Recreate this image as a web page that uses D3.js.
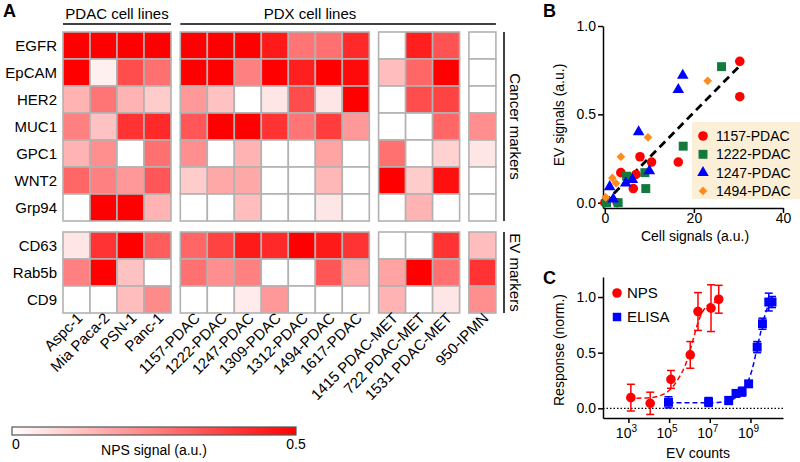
<!DOCTYPE html>
<html><head><meta charset="utf-8">
<script src="https://cdn.jsdelivr.net/npm/d3@7"></script>
<style>
body{margin:0;background:#fff}
svg{display:block}
text{font-family:"Liberation Sans",Arial,Helvetica,sans-serif;fill:#000}
</style>
</head><body>
<svg id="chart" width="800" height="462"></svg>
<script>
// ---------------- Panel A data ----------------
const columns = ["Aspc-1","Mia Paca-2","PSN-1","Panc-1","1157-PDAC","1222-PDAC","1247-PDAC","1309-PDAC","1312-PDAC","1494-PDAC","1617-PDAC","1415 PDAC-MET","722 PDAC-MET","1531 PDAC-MET","950-IPMN"];
const columnGroup = [0,0,0,0,1,1,1,1,1,1,1,2,2,2,3];
const cancerMarkers = ["EGFR","EpCAM","HER2","MUC1","GPC1","WNT2","Grp94"];
const evMarkers = ["CD63","Rab5b","CD9"];
const npsEGFR  = [0.50,0.50,0.50,0.50, 0.50,0.50,0.50,0.45,0.27,0.28,0.42, 0.00,0.44,0.34, 0.00];
const npsEpCAM = [0.50,0.03,0.35,0.28, 0.50,0.50,0.25,0.50,0.44,0.50,0.48, 0.13,0.30,0.50, 0.00];
const npsHER2  = [0.15,0.27,0.15,0.10, 0.20,0.12,0.00,0.05,0.35,0.05,0.50, 0.00,0.35,0.37, 0.00];
const npsMUC1  = [0.25,0.12,0.40,0.42, 0.33,0.50,0.50,0.40,0.27,0.38,0.20, 0.00,0.00,0.30, 0.22];
const npsGPC1  = [0.15,0.22,0.00,0.28, 0.22,0.00,0.15,0.00,0.00,0.18,0.00, 0.28,0.00,0.09, 0.05];
const npsWNT2  = [0.30,0.25,0.20,0.33, 0.10,0.17,0.17,0.00,0.00,0.14,0.00, 0.50,0.10,0.47, 0.00];
const npsGrp94 = [0.00,0.50,0.50,0.15, 0.00,0.00,0.13,0.00,0.00,0.05,0.00, 0.00,0.15,0.00, 0.00];
const npsCD63  = [0.05,0.40,0.50,0.32, 0.30,0.37,0.45,0.42,0.50,0.45,0.40, 0.00,0.00,0.40, 0.13];
const npsRab5b = [0.25,0.50,0.12,0.00, 0.28,0.22,0.25,0.00,0.00,0.33,0.17, 0.18,0.50,0.28, 0.40];
const npsCD9   = [0.00,0.00,0.13,0.23, 0.00,0.00,0.04,0.20,0.00,0.00,0.00, 0.15,0.00,0.05, 0.22];
const colorTicks = [0, 0.5];

// ---------------- Panel B data (cell signal, EV signal) ----------------
const series1157 = [[30.3,0.80],[30.3,0.60],[16.5,0.23],[10.5,0.23],[7.9,0.26],[7.0,0.16],[6.4,0.08],[3.6,0.17],[2.8,0.0],[0.0,0.0]];
const series1222 = [[26.2,0.77],[17.6,0.32],[9.0,0.17],[9.2,0.08],[4.9,0.15],[3.0,0.0],[0.4,0.0]];
const series1247 = [[17.5,0.72],[16.5,0.64],[7.6,0.40],[10.0,0.18],[6.2,0.13],[4.7,0.11],[1.1,0.09],[1.9,0.02]];
const series1494 = [[23.1,0.69],[9.7,0.37],[3.6,0.26],[1.7,0.14],[2.5,0.11],[0.2,0.03]];
const seriesNames = ["1157-PDAC","1222-PDAC","1247-PDAC","1494-PDAC"];
const corrLine = [[0,0],[30.5,0.78]];
const bTicksX = [0,20,40];
const bTicksY = [0,0.5,1.0];

// ---------------- Panel C data ----------------
const npsLogCount   = [3.12,4.07,5.09,6.04,6.42,7.06,7.44];
const npsResponse   = [0.096,0.045,0.26,0.48,0.87,0.90,0.98];
const npsError      = [0.12,0.10,0.08,0.12,0.17,0.21,0.125];
const elisaLogCount = [4.97,6.94,7.93,8.29,8.59,8.91,9.33,9.59,9.90,10.06];
const elisaResponse = [0.054,0.057,0.07,0.134,0.15,0.22,0.55,0.76,0.955,0.955];
const elisaError    = [0.05,0.04,0.035,0.03,0.04,0.025,0.05,0.05,0.08,0.05];
const npsFitLog     = [3.0,3.5,4.0,4.5,5.0,5.5,5.8,6.0,6.2,6.4,6.6,6.8,7.0,7.5];
const npsFitResp    = [0.090,0.091,0.095,0.11,0.16,0.28,0.39,0.50,0.63,0.76,0.85,0.91,0.94,0.96];
const elisaFitLog   = [4.97,6.0,7.0,7.5,8.0,8.3,8.6,8.9,9.1,9.3,9.5,9.7,9.9,10.1];
const elisaFitResp  = [0.05,0.05,0.05,0.055,0.07,0.10,0.15,0.25,0.36,0.52,0.68,0.83,0.93,0.98];
const cTickExps = [3,5,7,9];
const cTicksY = [0,0.5,1.0];

// ---------------- Drawing ----------------
const svg = d3.select("#chart");
const FONT = 14;

// ===== Panel A =====
const cell = 27, gap = 9.3;
const xBand = d3.scaleBand().domain(columns).range([63, 63 + cell*columns.length]).padding(0);
const colX = c => xBand(c) + columnGroup[columns.indexOf(c)]*gap;
const yCancer = d3.scaleBand().domain(cancerMarkers).range([32, 32 + cell*cancerMarkers.length]);
const yEV = d3.scaleBand().domain(evMarkers).range([232, 232 + cell*evMarkers.length]);
const color = d3.scaleLinear().domain([0,0.5]).range(["#ffffff","#ff0000"]).clamp(true);

const rowValues = {EGFR:npsEGFR,EpCAM:npsEpCAM,HER2:npsHER2,MUC1:npsMUC1,GPC1:npsGPC1,WNT2:npsWNT2,Grp94:npsGrp94,CD63:npsCD63,Rab5b:npsRab5b,CD9:npsCD9};
const cells = [];
cancerMarkers.forEach(m => columns.forEach((c,i) => cells.push({m, c, v: rowValues[m][i], y: yCancer(m)})));
evMarkers.forEach(m => columns.forEach((c,i) => cells.push({m, c, v: rowValues[m][i], y: yEV(m)})));

const gA = svg.append("g");
gA.selectAll("rect.cell").data(cells).join("rect")
  .attr("class","cell")
  .attr("x", d => colX(d.c))
  .attr("y", d => d.y)
  .attr("width", xBand.bandwidth())
  .attr("height", cell)
  .attr("fill", d => color(d.v))
  .attr("stroke", "#b2b2b2")
  .attr("stroke-width", 1.6);

// row labels
gA.selectAll("text.row").data(cancerMarkers).join("text")
  .attr("x", 57).attr("y", d => yCancer(d) + cell/2)
  .attr("dy","0.36em").attr("text-anchor","end").style("font-size","15px").text(d=>d);
gA.selectAll("text.row2").data(evMarkers).join("text")
  .attr("x", 57).attr("y", d => yEV(d) + cell/2)
  .attr("dy","0.36em").attr("text-anchor","end").style("font-size","15px").text(d=>d);

// column labels
gA.selectAll("text.col").data(columns).join("text")
  .attr("text-anchor","end")
  .attr("transform", d => `translate(${colX(d) + cell/2 + 7},${319}) rotate(-45)`)
  .style("font-size", "15px").text(d=>d);

// group headers
const g0s = colX(columns[0]), g0e = colX(columns[3]) + cell;
const g1s = colX(columns[4]), g3e = colX(columns[14]) + cell;
gA.append("line").attr("x1",g0s).attr("x2",g0e).attr("y1",24).attr("y2",24).attr("stroke","#000").attr("stroke-width",1.5);
gA.append("line").attr("x1",g1s).attr("x2",g3e).attr("y1",24).attr("y2",24).attr("stroke","#000").attr("stroke-width",1.5);
gA.append("text").attr("x",(g0s+g0e)/2).attr("y",19).attr("text-anchor","middle").style("font-size","15px").text("PDAC cell lines");
gA.append("text").attr("x",310).attr("y",19).attr("text-anchor","middle").style("font-size","15px").text("PDX cell lines");

// right brackets
const bx = 504;
gA.append("line").attr("x1",bx).attr("x2",bx).attr("y1",yCancer.range()[0]).attr("y2",yCancer.range()[1]).attr("stroke","#000").attr("stroke-width",1.5);
gA.append("line").attr("x1",bx).attr("x2",bx).attr("y1",yEV.range()[0]).attr("y2",yEV.range()[1]).attr("stroke","#000").attr("stroke-width",1.5);
gA.append("text").attr("text-anchor","middle")
  .attr("transform",`translate(510,${(yCancer.range()[0]+yCancer.range()[1])/2}) rotate(90)`)
  .style("font-size","15px").text("Cancer markers");
gA.append("text").attr("text-anchor","middle")
  .attr("transform",`translate(510,${(yEV.range()[0]+yEV.range()[1])/2}) rotate(90)`)
  .style("font-size","15px").text("EV markers");

gA.append("text").attr("x",3).attr("y",17).style("font-size","18px").style("font-weight","bold").text("A");

// colorbar
const defs = svg.append("defs");
const grad = defs.append("linearGradient").attr("id","cbar");
d3.range(0,1.0001,0.1).forEach(t => grad.append("stop").attr("offset", t).attr("stop-color", color(t*0.5)));
const cbScale = d3.scaleLinear().domain([0,0.5]).range([12,296]);
svg.append("rect").attr("x",cbScale(0)).attr("y",427).attr("width",cbScale(0.5)-cbScale(0)).attr("height",8)
  .attr("fill","url(#cbar)").attr("stroke","#555").attr("stroke-width",1.2);
svg.selectAll("text.cbt").data(colorTicks).join("text")
  .attr("x", d => cbScale(d)).attr("y",449)
  .attr("text-anchor", (d,i) => i===0 ? "start" : "middle")
  .style("font-size", FONT+"px").text(d => d===0 ? "0" : "0.5");
svg.append("text").attr("x",154).attr("y",455).attr("text-anchor","middle").style("font-size",FONT+"px").text("NPS signal (a.u.)");

// ===== Panel B =====
const gB = svg.append("g");
const xB = d3.scaleLinear().domain([-0.4,40]).range([603,783]);
const yB = d3.scaleLinear().domain([-0.03,1.0]).range([208,26]);
const axB_y = gB.append("g").attr("transform","translate(603,0)")
  .call(d3.axisLeft(yB).tickValues(bTicksY).tickFormat(d3.format(".1f")).tickSize(5).tickSizeOuter(0));
const axB_x = gB.append("g").attr("transform","translate(0,208)")
  .call(d3.axisBottom(xB).tickValues(bTicksX).tickSize(5).tickSizeOuter(0));
[axB_y, axB_x].forEach(a => {
  a.selectAll("path,line").attr("stroke","#000").attr("stroke-width",1.5);
  a.selectAll("text").style("font-size",FONT+"px").attr("fill","#000").style("font-family",'"Liberation Sans",Arial,sans-serif');
});
axB_y.selectAll("text").attr("x",-7);
axB_x.selectAll("text").attr("y",5);
gB.append("text").attr("x",695).attr("y",241).attr("text-anchor","middle").style("font-size",FONT+"px").text("Cell signals (a.u.)");
gB.append("text").attr("text-anchor","middle").attr("transform","translate(564,115) rotate(-90)").style("font-size",FONT+"px").text("EV signals (a.u.)");
gB.append("text").attr("x",543).attr("y",17).style("font-size","18px").style("font-weight","bold").text("B");

// legend background
gB.append("rect").attr("x",692).attr("y",122).attr("width",108).attr("height",77).attr("fill","#fcefd8");

const styles = [
  {data:series1157, sym:d3.symbolCircle, size:72, rot:0, fill:"#ff0000"},
  {data:series1222, sym:d3.symbolSquare, size:80, rot:0, fill:"#137a3e"},
  {data:series1247, sym:d3.symbolTriangle, size:58, rot:0, fill:"#0000ff"},
  {data:series1494, sym:d3.symbolSquare, size:38, rot:45, fill:"#ff8c1a"}
];
// dashed correlation line
gB.append("line").attr("x1",xB(corrLine[0][0])).attr("y1",yB(corrLine[0][1]))
  .attr("x2",xB(corrLine[1][0])).attr("y2",yB(corrLine[1][1]))
  .attr("stroke","#000").attr("stroke-width",2.8).attr("stroke-dasharray","8,5");
styles.forEach((s,k) => {
  gB.append("g").selectAll("path").data(s.data).join("path")
    .attr("d", d3.symbol(s.sym, s.size)())
    .attr("transform", d => `translate(${xB(d[0])},${yB(d[1])}) rotate(${s.rot})`)
    .attr("fill", s.fill);
  const ly = 136 + k*18.3;
  gB.append("path").attr("d", d3.symbol(s.sym, s.size)())
    .attr("transform",`translate(703,${ly}) rotate(${s.rot})`).attr("fill", s.fill);
  gB.append("text").attr("x",716).attr("y",ly).attr("dy","0.36em").style("font-size",FONT+"px").text(seriesNames[k]);
});

// ===== Panel C =====
const gC = svg.append("g");
const xC = d3.scaleLog().domain([Math.pow(10,1.75), Math.pow(10,10.6)]).range([603,783]);
const yC = d3.scaleLinear().domain([-0.087,1.18]).range([418,277]);
const axC_y = gC.append("g").attr("transform","translate(603,0)")
  .call(d3.axisLeft(yC).tickValues(cTicksY).tickFormat(d3.format(".1f")).tickSize(5).tickSizeOuter(0));
const axC_x = gC.append("g").attr("transform","translate(0,418)")
  .call(d3.axisBottom(xC).tickValues(cTickExps.map(e => Math.pow(10,e))).tickFormat("").tickSize(5).tickSizeOuter(0));
[axC_y, axC_x].forEach(a => {
  a.selectAll("path,line").attr("stroke","#000").attr("stroke-width",1.5);
  a.selectAll("text").style("font-size",FONT+"px").attr("fill","#000").style("font-family",'"Liberation Sans",Arial,sans-serif');
});
axC_y.selectAll("text").attr("x",-7);
const tl = gC.selectAll("text.ctick").data(cTickExps).join("text")
  .attr("x", d => xC(Math.pow(10,d)) - 2).attr("y",438).attr("text-anchor","middle").style("font-size",FONT+"px");
tl.append("tspan").text("10");
tl.append("tspan").attr("dy",-6).style("font-size","10px").text(d => d);
gC.append("text").attr("x",698).attr("y",458).attr("text-anchor","middle").style("font-size",FONT+"px").text("EV counts");
gC.append("text").attr("text-anchor","middle").attr("transform","translate(564,350) rotate(-90)").style("font-size",FONT+"px").text("Response (norm.)");
gC.append("text").attr("x",543).attr("y",284).style("font-size","18px").style("font-weight","bold").text("C");

// zero line
gC.append("line").attr("x1",603).attr("x2",783).attr("y1",yC(0)).attr("y2",yC(0))
  .attr("stroke","#000").attr("stroke-width",1.2).attr("stroke-dasharray","1.5,2");

const lineC = d3.line().x(d => xC(Math.pow(10,d[0]))).y(d => yC(d[1])).curve(d3.curveMonotoneX);
gC.append("path").datum(npsFitLog.map((l,i)=>[l,npsFitResp[i]])).attr("d",lineC)
  .attr("fill","none").attr("stroke","#ff0000").attr("stroke-width",1.5).attr("stroke-dasharray","5,3");
gC.append("path").datum(elisaFitLog.map((l,i)=>[l,elisaFitResp[i]])).attr("d",lineC)
  .attr("fill","none").attr("stroke","#0000ff").attr("stroke-width",1.5).attr("stroke-dasharray","5,3");

function drawSeries(logs, resp, err, col, sym, size) {
  const pts = logs.map((l,i) => ({x:xC(Math.pow(10,l)), y:resp[i], e:err[i]}));
  const g = gC.append("g");
  pts.forEach(p => {
    g.append("line").attr("x1",p.x).attr("x2",p.x).attr("y1",yC(p.y-p.e)).attr("y2",yC(p.y+p.e)).attr("stroke",col).attr("stroke-width",1.5);
    [p.y-p.e, p.y+p.e].forEach(v => g.append("line").attr("x1",p.x-4).attr("x2",p.x+4).attr("y1",yC(v)).attr("y2",yC(v)).attr("stroke",col).attr("stroke-width",1.5));
  });
  g.selectAll("path").data(pts).join("path").attr("d", d3.symbol(sym,size)())
    .attr("transform", p => `translate(${p.x},${yC(p.y)})`).attr("fill",col);
}
drawSeries(npsLogCount, npsResponse, npsError, "#ff0000", d3.symbolCircle, 72);
drawSeries(elisaLogCount, elisaResponse, elisaError, "#0000ff", d3.symbolSquare, 80);

// legend C
gC.append("path").attr("d",d3.symbol(d3.symbolCircle,72)()).attr("transform","translate(617,293)").attr("fill","#ff0000");
gC.append("text").attr("x",627).attr("y",293).attr("dy","0.36em").style("font-size","15px").text("NPS");
gC.append("path").attr("d",d3.symbol(d3.symbolSquare,72)()).attr("transform","translate(617,317)").attr("fill","#0000ff");
gC.append("text").attr("x",627).attr("y",317).attr("dy","0.36em").style("font-size","15px").text("ELISA");
</script>
</body></html>
